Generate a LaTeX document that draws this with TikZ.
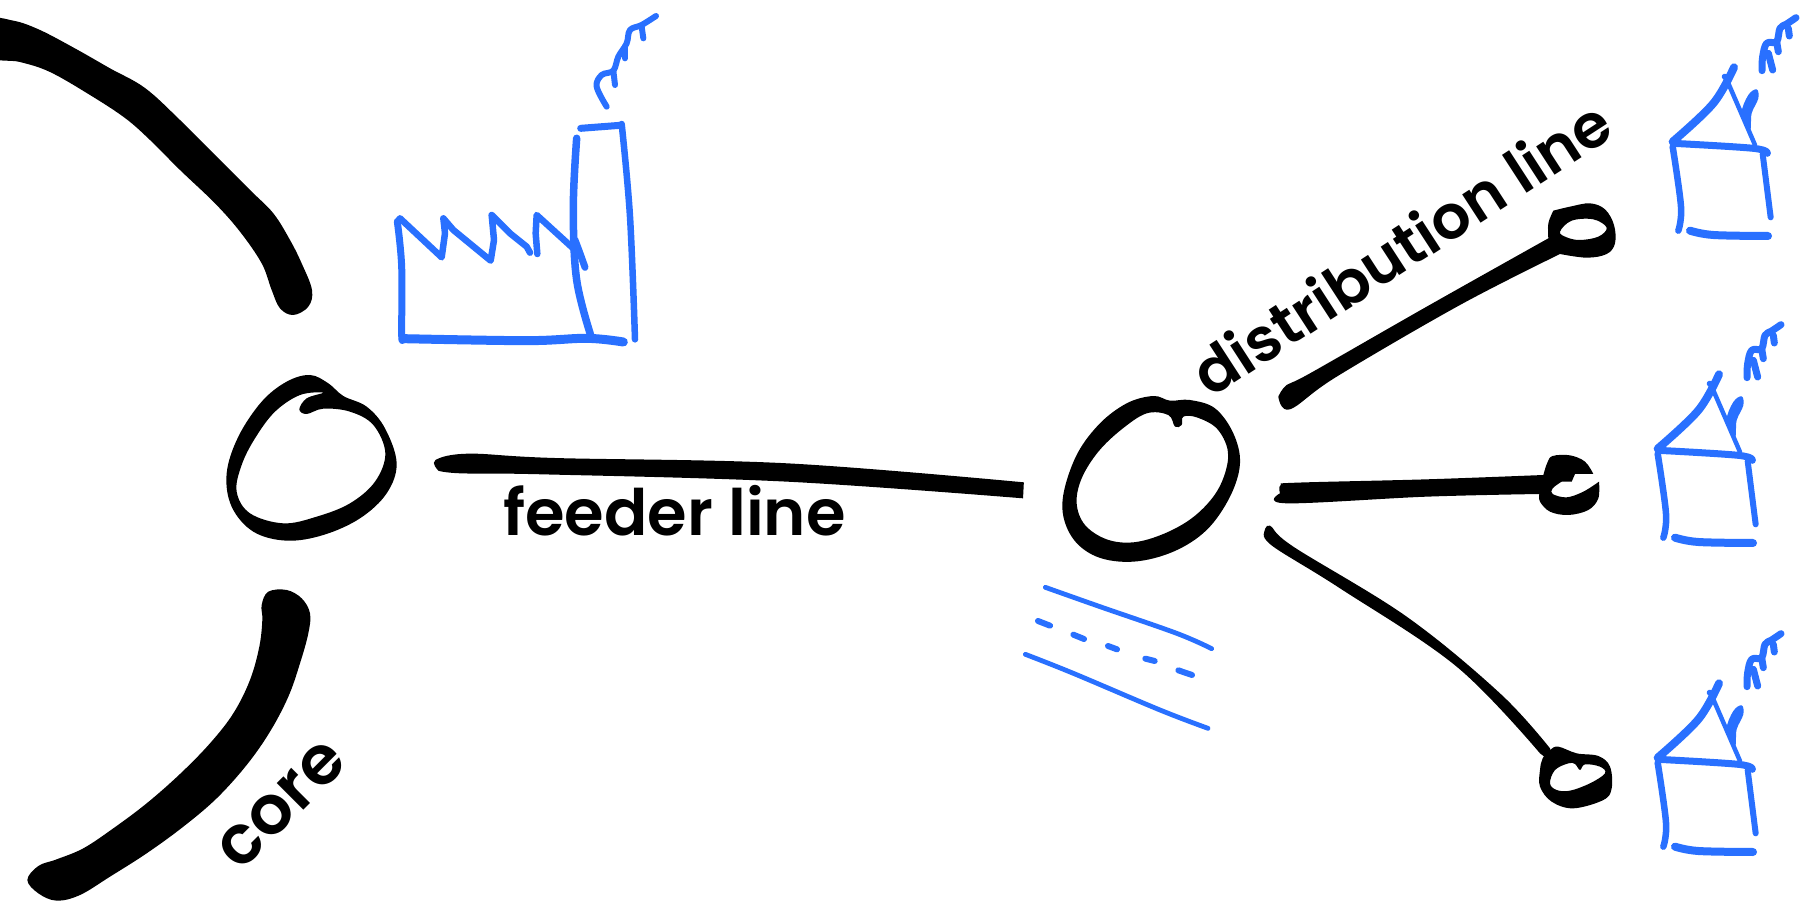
\documentclass[tikz,border=0pt]{standalone}
\usepackage{fontspec}
\setmainfont{Poppins}
\newfontfamily\labelfont[UprightFont=* SemiBold]{Poppins}
\definecolor{sketchblue}{RGB}{41,112,255}
\tikzset{
  zoomed/.style={x=0.33333pt,y=-0.33333pt},
  ink/.style={fill=black,draw=none,even odd rule},
  sm/.style={smooth,tension=0.6},
  smc/.style={smooth cycle,tension=0.6},
  pen/.style={draw=sketchblue,line cap=round,line join=round,line width=#1},
  pen/.default=7pt,
  labeltext/.style={inner sep=0pt,text=black,font=\labelfont\fontsize{#1}{70}\selectfont},
}
\newcommand{\inkshape}[1]{\path[ink] plot[smc] coordinates {#1};}
\newcommand{\inkring}[2]{\path[ink] plot[smc] coordinates {#1} plot[smc] coordinates {#2};}
\newcommand{\penline}[2][]{\draw[pen,#1] plot[sm] coordinates {#2};}
\newcommand{\penzig}[2][]{\draw[pen,#1] plot coordinates {#2};}
\begin{document}
\begin{tikzpicture}[x=1pt,y=-1pt]
\useasboundingbox (0,0) rectangle (1805,909);
\fill[white] (0,0) rectangle (1805,909);
% core arcs
\begin{scope}
\clip (0,0) rectangle (1805,909);
\begin{scope}[zoomed]
\inkshape{(-30,62)(40,62)(120,90)(230,148)(330,205)(435,264)(540,360)(645,465)(750,570)(820,640)(870,720)(905,790)(936,870)(925,920)(880,945)(840,925)(815,870)(785,790)(720,695)(645,610)(540,510)(450,420)(375,354)(270,285)(150,216)(60,186)(-30,168)}
\end{scope}
\end{scope}
\begin{scope}[shift={(0,570)},zoomed]
\inkshape{(805,65)(860,60)(905,85)(930,130)(925,190)(900,280)(865,380)(810,485)(740,585)(650,685)(550,770)(440,850)(330,920)(240,975)(170,992)(115,970)(82,930)(115,888)(170,868)(250,835)(340,775)(440,700)(540,612)(630,520)(700,430)(750,330)(778,230)(787,150)(785,105)}
\end{scope}
% left circle
\begin{scope}[shift={(200,350)},zoomed]
\inkring{(330,75)(385,100)(430,138)(500,170)(555,235)(590,340)(560,430)(480,505)(370,555)(260,572)(160,545)(95,470)(80,370)(115,260)(185,155)(260,95)}
{(370,128)(300,135)(225,185)(165,265)(125,345)(110,425)(150,490)(250,520)(350,500)(450,460)(525,395)(556,310)(520,225)(450,185)(370,176)(320,192)(298,178)(320,145)}
\end{scope}
% right circle and road
\begin{scope}[shift={(1000,380)},zoomed]
\inkring{(460,48)(510,62)(570,60)(645,85)(700,160)(720,250)(690,350)(620,450)(520,515)(400,545)(290,530)(215,470)(187,370)(225,235)(295,135)(380,70)}
{(505,105)(440,100)(365,148)(295,215)(245,295)(230,370)(255,435)(320,478)(400,487)(490,462)(575,415)(640,350)(675,280)(683,210)(650,145)(590,112)(550,110)(545,135)(525,140)}
\penline[line width=4.8pt]{(136,622)(300,680)(530,760)(635,806)}
\penline[line width=4.8pt]{(76,823)(220,880)(480,990)(624,1045)}
\foreach \xa/\ya/\xb/\yb in {114/723/150/737,220/764/252/777,324/798/351/808,436/836/464/843,535/871/576/885}
  \draw[pen=6pt] (\xa,\ya) -- (\xb,\yb);
\end{scope}
% feeder line
\begin{scope}[shift={(420,430)},x=0.408pt,y=-0.33333pt]
\path[ink] plot[sm] coordinates {(45,122)(38,90)(120,71)(330,84)(900,100)(1480,157)} -- plot[sm] coordinates {(1478,205)(900,155)(300,133)(100,130)(45,122)} -- cycle;
\end{scope}
% distribution lines
\begin{scope}[shift={(1260,180)},zoomed]
\path[ink] plot[sm] coordinates {(55,650)(80,615)(150,580)(500,380)(865,175)} -- plot[sm] coordinates {(865,175)(865,130)(880,92)} -- plot[sm] coordinates {(880,92)(930,80)(990,70)(1035,88)(1062,135)(1065,190)(1040,222)(980,233)(900,222)} -- plot[sm] coordinates {(900,222)(600,375)(230,590)(90,688)(55,650)} -- cycle
 plot[smc] coordinates {(900,155)(935,122)(1000,118)(1040,143)(1015,170)(960,180)(920,172)};
\path[ink] plot[sm] coordinates {(60,940)(62,915)(110,908)(500,898)(850,885)} -- plot[sm] coordinates {(850,885)(862,848)(878,828)(930,826)(975,845)(1000,882)} -- (945,882) -- (935,905) -- plot[sm] coordinates {(905,905)(878,925)(878,942)(920,952)(970,935)(1017,905)} -- plot[sm] coordinates {(1017,905)(1015,955)(985,990)(925,1005)(870,995)(840,965)(838,942)} -- plot[sm] coordinates {(838,942)(500,950)(80,970)(60,940)} -- cycle;
\end{scope}
\begin{scope}[shift={(1240,510)},zoomed]
\path[ink] plot[sm] coordinates {(72,70)(90,47)(160,110)(500,320)(780,550)(930,715)} -- (940,760) -- plot[sm] coordinates {(900,730)(650,470)(300,235)(100,110)(72,70)} -- cycle;
\end{scope}
\begin{scope}[shift={(1500,620)},zoomed]
\inkring{(150,390)(175,380)(230,400)(295,408)(330,440)(335,505)(310,540)(220,565)(155,545)(120,500)(120,450)(128,415)}
{(150,490)(165,450)(205,430)(225,432)(240,450)(255,433)(300,440)(315,460)(270,490)(210,512)(170,510)}
\end{scope}
% factory
\begin{scope}[shift={(360,0)},zoomed]
\penline{(112,665)(125,800)(125,1000)(128,1016)}
\penzig[line width=6.5pt]{(112,665)(120,655)(245,772)(255,700)(250,655)(280,690)(392,782)(402,720)(395,645)(450,700)(500,740)(510,758)}
\penzig[line width=6.5pt]{(532,762)(527,700)(530,645)(645,750)}
\penline[line width=7.5pt]{(650,415)(640,620)(650,840)(695,1015)}
\penline{(645,720)(660,760)(675,802)}
\penline[line width=9pt]{(130,1016)(500,1022)(680,1015)(790,1026)}
\penline[line width=7pt]{(662,385)(780,376)}
\penline[line width=6.5pt]{(785,372)(810,650)(825,1018)}
\penline[line width=6pt]{(740,320)(710,260)(725,225)(760,212)(775,170)(800,130)(810,90)(845,75)(888,48)}
\penline[line width=6pt]{(760,212)(765,255)}
\penline[line width=6pt]{(795,140)(795,175)}
\penline[line width=6pt]{(845,80)(850,115)}
\end{scope}
% houses
\foreach \dx/\dy in {0/0,-15/307,-15/616}{
\begin{scope}[shift={(1580+\dx,\dy)},zoomed]
\penline[line width=8pt]{(278,425)(400,310)(462,202)}
\penzig[line width=6pt]{(434,230)(448,238)}
\penline[line width=4.5pt]{(445,250)(525,435)}
\path[fill=sketchblue] plot[smc] coordinates {(485,340)(505,285)(530,268)(535,295)(515,340)(510,390)};
\penline[line width=7pt]{(280,430)(520,445)(562,460)}
\penline[line width=6.5pt]{(278,440)(303,620)(295,692)}
\penline[line width=6pt]{(548,462)(572,652)}
\penline[line width=8pt]{(330,692)(400,705)(564,708)}
\penline[line width=7pt]{(648,53)(620,72)(600,85)(590,125)(560,130)(548,170)(546,212)}
\penline[line width=7pt]{(625,85)(628,108)}
\penline[line width=7pt]{(590,125)(595,155)}
\penline[line width=7pt]{(565,160)(578,210)}
\end{scope}}
% labels
\node[labeltext=64,anchor=base west] (feeder) at (503,535) {feeder line};
\node[labeltext=68,rotate=45] (core) at (282,805) {core};
\node[labeltext=61,rotate=33] (dist) at (1401,247) {distribution line};
\end{tikzpicture}
\end{document}
